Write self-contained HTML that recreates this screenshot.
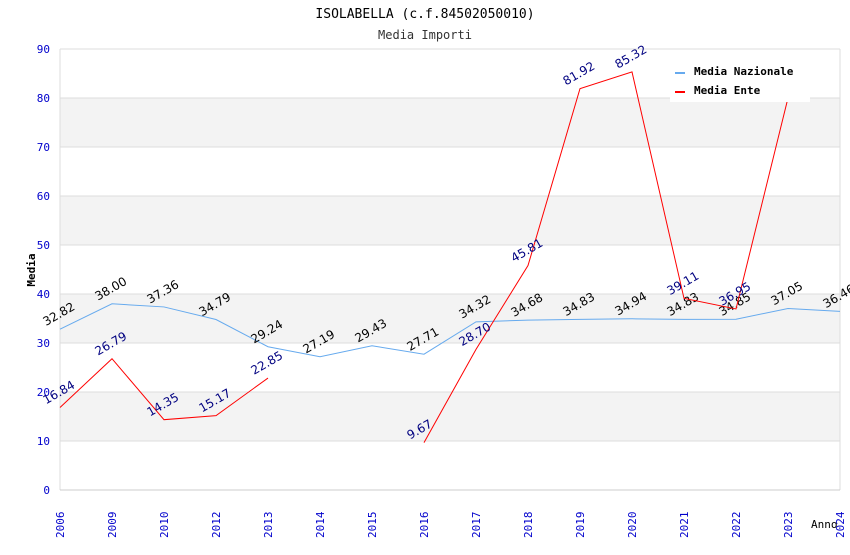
<!DOCTYPE html>
<html><head><meta charset="utf-8"><style>
body{margin:0;background:#fff;}
svg{font-family:"DejaVu Sans Mono","Liberation Mono",monospace;}
</style></head><body>
<svg id="c" width="850" height="550"></svg>
<script>
const categories=["2006","2009","2010","2012","2013","2014","2015","2016","2017","2018","2019","2020","2021","2022","2023","2024"];
const nazionale=[32.82,38.00,37.36,34.79,29.24,27.19,29.43,27.71,34.32,34.68,34.83,34.94,34.83,34.85,37.05,36.46];
const ente=[16.84,26.79,14.35,15.17,22.85,null,null,9.67,28.70,45.81,81.92,85.32,39.11,36.95,80.00,null];
const yTicks=[0,10,20,30,40,50,60,70,80,90];
const NS="http://www.w3.org/2000/svg";
const svg=document.getElementById('c');
const L=60,R=840,T=49,B=490;
const x=i=>L+i*(R-L)/(categories.length-1);
const y=v=>B-(v/90)*(B-T);
function mk(tag,a,parent){const e=document.createElementNS(NS,tag);for(const k in a)e.setAttribute(k,a[k]);(parent||svg).appendChild(e);return e;}
for(let v=10;v<90;v+=20){const r=mk('rect',{x:L,y:y(v+10),width:R-L,height:y(v)-y(v+10),fill:'#f3f3f3'});

}
yTicks.forEach(v=>{const g=mk('line',{x1:L,x2:R,y1:y(v),y2:y(v),stroke:'#ddd','stroke-width':1});


const t=mk('text',{x:L-10,y:y(v)+4,'text-anchor':'end','font-size':11,fill:'#00c'});t.textContent=v;

});
mk('line',{x1:L,x2:L,y1:T,y2:B,stroke:'#ddd'});
mk('line',{x1:R,x2:R,y1:T,y2:B,stroke:'#ddd'});
mk('line',{x1:L,x2:R,y1:B,y2:B,stroke:'#ccc'});
categories.forEach((c,i)=>{const t=mk('text',{x:0,y:0,transform:`translate(${x(i)+4},${B+48}) rotate(-90)`,'font-size':11,fill:'#00c'});t.textContent=c;

});
function series(arr,color,lab,name){let d='';let pen=false;
arr.forEach((v,i)=>{if(v==null){pen=false;return;}d+=(pen?'L':'M')+x(i)+','+y(v);pen=true;});
const p=mk('path',{d,fill:'none',stroke:color,'stroke-width':1});


arr.forEach((v,i)=>{if(v==null)return;const t=mk('text',{transform:`translate(${x(i)-14},${y(v)-3}) rotate(-30)`,'font-size':12,fill:lab,'font-family':'DejaVu Sans,Liberation Sans,sans-serif'});t.textContent=v.toFixed(2);

});}
series(nazionale,'#66aaee','#000','media-nazionale');
series(ente,'#ff0000','#000080','media-ente');
const lg=mk('g',{});


mk('rect',{x:670,y:57,width:140,height:45,fill:'#fff'},lg);
mk('rect',{x:675,y:72,width:10,height:2,fill:'#66aaee'},lg);
mk('rect',{x:675,y:91,width:10,height:2,fill:'#ff0000'},lg);
const l1=mk('text',{x:694,y:75,'font-size':11,'font-weight':'bold'},lg);l1.textContent='Media Nazionale';


const l2=mk('text',{x:694,y:94,'font-size':11,'font-weight':'bold'},lg);l2.textContent='Media Ente';


const t1=mk('text',{x:425,y:18,'text-anchor':'middle','font-size':13});t1.textContent='ISOLABELLA (c.f.84502050010)';


const t2=mk('text',{x:425,y:39,'text-anchor':'middle','font-size':12,fill:'#333'});t2.textContent='Media Importi';


const ya=mk('text',{transform:'translate(35,270) rotate(-90)','text-anchor':'middle','font-size':11,'font-weight':'bold'});ya.textContent='Media';


const xa=mk('text',{x:811,y:528,'font-size':11});xa.textContent='Anno';


</script>
</body></html>
